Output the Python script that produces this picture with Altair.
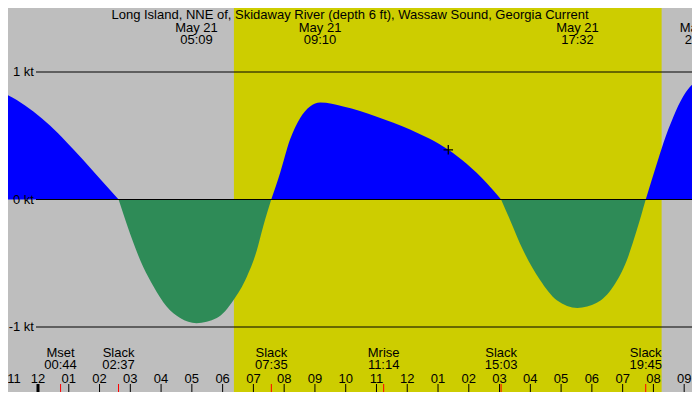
import altair as alt
import pandas as pd

# ---------------------------------------------------------------------------
# Data (hours after midnight, May 21)
# ---------------------------------------------------------------------------
curve_hours = [-1.24, -0.69, -0.15, 0.39, 0.93, 1.47, 2.02, 2.62,
               2.88, 3.10, 3.42, 3.75, 4.18, 4.62, 5.15, 5.81, 6.35, 6.78, 7.11, 7.32, 7.58,
               7.87, 8.19, 8.52, 8.84, 9.17, 9.92, 11.01, 12.09, 13.34, 13.93, 14.58, 15.05,
               15.34, 15.77, 16.31, 16.86, 17.53, 18.16, 18.70, 19.13, 19.46, 19.75,
               20.11, 20.32, 20.65, 20.97, 21.30, 21.52]
curve_kt = [0.85, 0.78, 0.69, 0.58, 0.45, 0.31, 0.16, 0.0,
            -0.19, -0.34, -0.53, -0.68, -0.84, -0.93, -0.97, -0.93, -0.79, -0.61, -0.40, -0.21, 0.0,
            0.21, 0.47, 0.64, 0.73, 0.76, 0.73, 0.65, 0.55, 0.39, 0.28, 0.13, 0.0,
            -0.16, -0.40, -0.63, -0.79, -0.85, -0.81, -0.68, -0.48, -0.24, 0.0,
            0.28, 0.44, 0.65, 0.81, 0.91, 0.93]

peak_times = ["05:09", "09:10", "17:32", "21:33"]
event_names = ["Mset", "Slack", "Slack", "Mrise", "Slack", "Slack"]
event_times = ["00:44", "02:37", "07:35", "11:14", "15:03", "19:45"]

hour_ticks = list(range(-1, 22))
hour_labels = ["11", "12", "01", "02", "03", "04", "05", "06", "07", "08", "09", "10",
               "11", "12", "01", "02", "03", "04", "05", "06", "07", "08", "09"]

kt_levels = [1, 0, -1]
kt_labels = ["1 kt", "0 kt", "-1 kt"]

sunrise, sunset = "06:22", "20:16"
now_time, now_kt = "13:20", 0.39

TITLE = "Long Island, NNE of, Skidaway River (depth 6 ft), Wassaw Sound, Georgia Current"


def to_h(s):
    hh, mm = s.split(":")
    return int(hh) + int(mm) / 60


# split the curve into flood / ebb lobes (slack points shared by both sides)
rows, lobe = [], 0
for h, v in zip(curve_hours, curve_kt):
    if v == 0:
        rows.append({"h": h, "kt": 0.0, "lobe": lobe})
        lobe += 1
        rows.append({"h": h, "kt": 0.0, "lobe": lobe})
    else:
        rows.append({"h": h, "kt": v, "lobe": lobe})
curve = pd.DataFrame(rows)
curve["dir"] = curve.groupby("lobe")["kt"].transform(
    lambda s: "flood" if s.sum() > 0 else "ebb")

FONT = "Liberation Sans"
FS = 13
W, H = 684, 384
xs = alt.Scale(domain=[-0.975, 21.254], nice=False, zero=False)
ys = alt.Scale(domain=[-1.5098, 1.502], nice=False, zero=False)

day = pd.DataFrame({"h": [to_h(sunrise)], "h2": [to_h(sunset)]})
levels = pd.DataFrame({"kt": kt_levels, "label": kt_labels})
ticks = pd.DataFrame({"h": hour_ticks, "label": hour_labels})
events = pd.DataFrame({"h": [to_h(t) for t in event_times],
                       "label": [f"{n}\n{t}" for n, t in zip(event_names, event_times)]})
peaks = pd.DataFrame({"h": [to_h(t) for t in peak_times],
                      "label": [f"May 21\n{t}" for t in peak_times]})
now = pd.DataFrame({"h": [to_h(now_time)], "kt": [now_kt]})

X = lambda f="h": alt.X(f"{f}:Q", scale=xs, axis=None)

daylight = alt.Chart(day).mark_rect(color="#CDCD00").encode(x=X(), x2="h2:Q")

current = alt.Chart(curve).mark_area(interpolate="monotone", clip=True, opacity=1).encode(
    x=X(),
    y=alt.Y("kt:Q", scale=ys, axis=None, stack=None),
    y2=alt.datum(0),
    color=alt.Color("dir:N", scale=alt.Scale(domain=["flood", "ebb"],
                                             range=["#0000FF", "#2E8B57"]), legend=None),
    detail="lobe:N",
)

level_lines = alt.Chart(levels).mark_rule(color="black", strokeWidth=1).encode(
    y=alt.Y("kt:Q", scale=ys, axis=None), x=alt.value(28), x2=alt.value(W)
)
level_text = alt.Chart(levels).mark_text(
    align="right", baseline="middle", font=FONT, fontSize=FS, color="black"
).encode(y=alt.Y("kt:Q", scale=ys, axis=None), x=alt.value(26), text="label:N")

hour_rules = alt.Chart(ticks).mark_rule(color="black", strokeWidth=1).encode(
    x=X(), y=alt.value(376), y2=alt.value(H)
)
midnight = alt.Chart(ticks).transform_filter("datum.h == 0").mark_rule(
    color="black", strokeWidth=3
).encode(x=X(), y=alt.value(376), y2=alt.value(H))
hour_text = alt.Chart(ticks).transform_filter("datum.h > -1").mark_text(
    align="center", baseline="top", font=FONT, fontSize=FS, color="black"
).encode(x=X(), y=alt.value(365), text="label:N")
first_hour = alt.Chart(ticks).transform_filter("datum.h == -1").mark_text(
    align="left", baseline="top", font=FONT, fontSize=FS, color="black"
).encode(x=X(), y=alt.value(365), text="label:N")

event_rules = alt.Chart(events).mark_rule(color="red", strokeWidth=1).encode(
    x=X(), y=alt.value(376), y2=alt.value(H)
)
event_text = alt.Chart(events).mark_text(
    align="center", baseline="top", font=FONT, fontSize=FS, lineHeight=11.7,
    lineBreak="\n", color="black"
).encode(x=X(), y=alt.value(339), text="label:N")

peak_text = alt.Chart(peaks).mark_text(
    align="center", baseline="top", font=FONT, fontSize=FS, lineHeight=11.5,
    lineBreak="\n", color="black"
).encode(x=X(), y=alt.value(14), text="label:N")

title = alt.Chart(pd.DataFrame({"t": [TITLE]})).mark_text(
    align="center", baseline="top", font=FONT, fontSize=FS, color="black"
).encode(x=alt.value(342), y=alt.value(1), text="t:N")

marker = alt.Chart(now).mark_point(
    shape="M-1,0H1M0,-1V1", size=90, filled=False, color="black", strokeWidth=1.3, opacity=1
).encode(x=X(), y=alt.Y("kt:Q", scale=ys, axis=None))

chart = alt.layer(
    daylight, current, level_lines, level_text, hour_rules, midnight, hour_text, first_hour,
    event_rules, event_text, peak_text, title, marker
).properties(
    width=W, height=H, padding=0, autosize="none", background="#BEBEBE"
).configure_view(fill="#BEBEBE", strokeWidth=0)

chart.save("out.html", embed_options={"renderer": "svg", "actions": False})
